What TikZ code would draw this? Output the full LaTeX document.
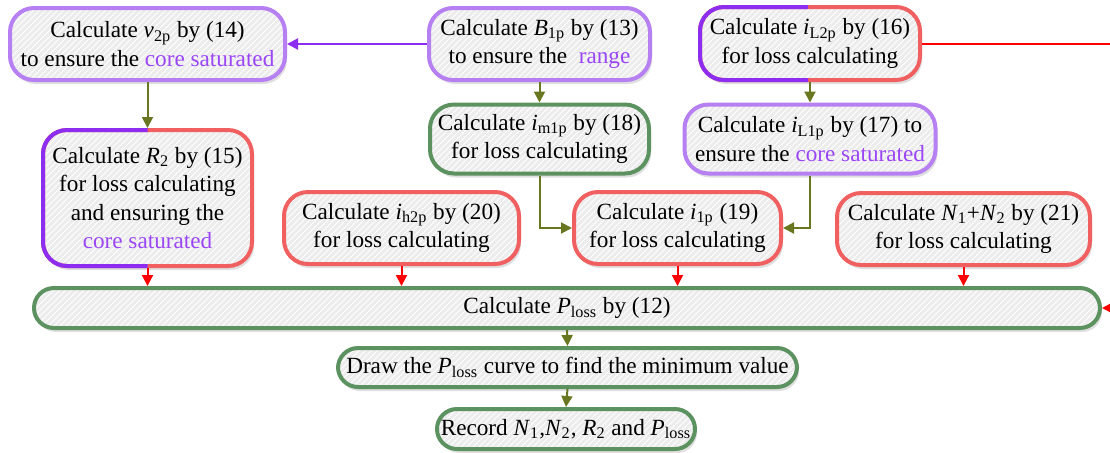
\documentclass[tikz,border=0pt]{standalone}
\usepackage{fontspec}
\setmainfont{Liberation Serif}
\usetikzlibrary{arrows.meta,shadows,patterns}

\definecolor{lpurple}{RGB}{182,128,242}
\definecolor{dpurple}{RGB}{140,45,240}
\definecolor{tpurple}{RGB}{155,70,245}
\definecolor{bred}{RGB}{240,96,96}
\definecolor{bgreen}{RGB}{92,145,96}
\definecolor{olive}{RGB}{105,120,32}
\definecolor{boxgray}{RGB}{236,236,236}

\newcommand{\symb}[2]{\textit{#1}\textsubscript{#2}}

\begin{document}
\begin{tikzpicture}[x=0.5pt,y=-0.5pt,
    frame/.style={rectangle,rounded corners=12pt,line width=2pt,inner sep=0pt},
    box/.style={frame,align=center,font=\fontsize{11.6}{14.2}\selectfont,
        drop shadow={shadow xshift=1pt,shadow yshift=-2pt,opacity=0.25},
        preaction={fill=boxgray},pattern=north east lines,pattern color=white},
    pill/.style={box,rounded corners=10pt},
    oarrow/.style={draw=olive,line width=1pt,-{Triangle[length=5.5pt,width=5.5pt]}},
    rarrow/.style={draw=red,line width=1pt,-{Triangle[length=5.5pt,width=5.5pt]}},
    parrow/.style={draw=dpurple,line width=1pt,-{Triangle[length=5.5pt,width=5.5pt]}}]
    \useasboundingbox (0,0) rectangle (1110,452);

    \node[box,draw=lpurple,minimum width=137.5pt,minimum height=36pt] (v2p) at (147.5,44)
        {Calculate \symb{v}{2p} by (14)\\to ensure the \textcolor{tpurple}{core saturated}};
    \node[box,draw=lpurple,minimum width=110.5pt,minimum height=36pt] (B1p) at (539.5,44)
        {Calculate \symb{B}{1p} by (13)\\to ensure the \ \textcolor{tpurple}{range}};
    \node[box,draw=bred,minimum width=110pt,minimum height=36.5pt] (iL2p) at (810,43.5)
        {Calculate \symb{i}{L2p} by (16)\\for loss calculating};
    \node[box,draw=bred,minimum width=104.5pt,minimum height=68pt] (R2) at (147.5,198)
        {Calculate \symb{R}{2} by (15)\\for loss calculating\\and ensuring the\\\textcolor{tpurple}{core saturated}};
    \node[box,draw=bgreen,minimum width=109.5pt,minimum height=34.5pt] (im1p) at (539.5,139)
        {Calculate \symb{i}{m1p} by (18)\\for loss calculating};
    \node[box,draw=lpurple,minimum width=125.5pt,minimum height=34.5pt] (iL1p) at (810,139)
        {Calculate \symb{i}{L1p} by (17) to\\ensure the \textcolor{tpurple}{core saturated}};
    \node[box,draw=bred,minimum width=117.5pt,minimum height=36pt] (ih2p) at (401.5,228)
        {Calculate \symb{i}{h2p} by (20)\\for loss calculating};
    \node[box,draw=bred,minimum width=103.5pt,minimum height=36pt] (i1p) at (677.5,228)
        {Calculate \symb{i}{1p} (19)\\for loss calculating};
    \node[box,draw=bred,minimum width=126.5pt,minimum height=36pt] (N12) at (963.5,229)
        {Calculate \symb{N}{1}+\symb{N}{2} by (21)\\for loss calculating};
    \node[pill,draw=bgreen,minimum width=533pt,minimum height=20pt] (loss) at (567,308)
        {Calculate \symb{P}{loss} by (12)};
    \node[pill,draw=bgreen,minimum width=229.5pt,minimum height=19.5pt] (curve) at (567.5,367.5)
        {Draw the \symb{P}{loss} curve to find the minimum value};
    \node[pill,draw=bgreen,minimum width=129pt,minimum height=20pt] (record) at (566,429)
        {Record \symb{N}{1},\symb{N}{2}, \symb{R}{2} and \symb{P}{loss}};

    % left halves in dark purple
    \begin{scope}
        \clip (iL2p.south west) rectangle ([xshift=-1pt]iL2p.north);
        \node[frame,draw=dpurple,minimum width=110pt,minimum height=36.5pt] (iL2pleft) at (iL2p) {};
    \end{scope}
    \begin{scope}
        \clip (R2.south west) rectangle (R2.north);
        \node[frame,draw=dpurple,minimum width=104.5pt,minimum height=68pt] (R2left) at (R2) {};
    \end{scope}

    \draw[parrow] (B1p.west) -- (v2p.east);
    \draw[oarrow] (v2p.south) -- (R2.north);
    \draw[oarrow] (B1p.south) -- (im1p.north);
    \draw[oarrow] (iL2p.south) -- (iL1p.north);
    \draw[oarrow] (im1p.south) |- (i1p.west);
    \draw[oarrow] (iL1p.south) |- (i1p.east);
    \draw[rarrow] (R2.south) -- (R2.south |- loss.north);
    \draw[rarrow] (ih2p.south) -- (ih2p.south |- loss.north);
    \draw[rarrow] (i1p.south) -- (i1p.south |- loss.north);
    \draw[rarrow] (N12.south) -- (N12.south |- loss.north);
    \draw[rarrow] (iL2p.east) -- ++(240,0) |- (loss.east);
    \draw[oarrow] (loss.south) -- (curve.north);
    \draw[oarrow] (curve.south) -- (record.north);
\end{tikzpicture}
\end{document}
